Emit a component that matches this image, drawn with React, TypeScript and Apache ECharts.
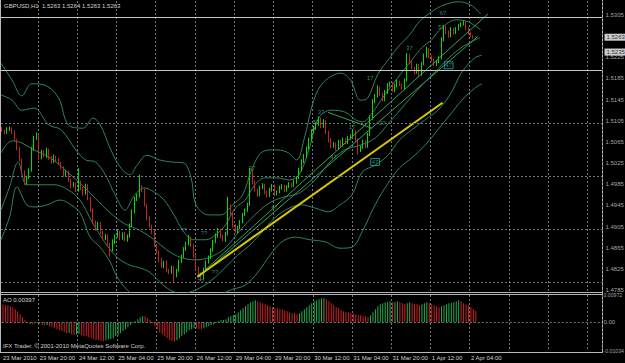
import React, { useEffect, useRef } from "react";
import * as echarts from "echarts";

const BAR_COUNT = 245;
const dateLabels = ["23 Mar 2010", "23 Mar 20:00", "24 Mar 12:00", "25 Mar 04:00", "25 Mar 20:00", "26 Mar 12:00", "29 Mar 04:00", "29 Mar 20:00", "30 Mar 12:00", "31 Mar 04:00", "31 Mar 20:00", "1 Apr 12:00", "2 Apr 04:00"];

const firstOpen = 1.509;
const closes = [
  1.5086, 1.5082, 1.5089, 1.5091, 1.5084, 1.5069, 1.5053, 1.5031, 1.5008, 1.4987,
  1.4997, 1.5012, 1.505, 1.5072, 1.5078, 1.5035, 1.5046, 1.5038, 1.505, 1.5035,
  1.5027, 1.5037, 1.5031, 1.5025, 1.5016, 1.5003, 1.5008, 1.4993, 1.4982, 1.4985,
  1.4974, 1.4989, 1.4978, 1.4968, 1.4982, 1.4959, 1.4936, 1.4914, 1.4902, 1.491,
  1.4895, 1.4883, 1.4887, 1.4872, 1.4861, 1.4876, 1.4887, 1.4895, 1.4883, 1.4891,
  1.488, 1.4887, 1.4906, 1.4933, 1.4955, 1.4963, 1.4978, 1.4974, 1.4946, 1.4921,
  1.4906, 1.4895, 1.487, 1.4857, 1.4842, 1.483, 1.4838, 1.4823, 1.4819, 1.4827,
  1.4813, 1.4823, 1.4838, 1.4849, 1.4861, 1.4872, 1.4883, 1.487, 1.4849, 1.4827,
  1.4815, 1.4808, 1.4823, 1.4838, 1.4846, 1.4861, 1.4876, 1.4887, 1.4898, 1.4887,
  1.488, 1.4891, 1.4944, 1.4929, 1.4906, 1.4895, 1.4902, 1.4914, 1.4927, 1.4936,
  1.4946, 1.5008, 1.4989, 1.4974, 1.4965, 1.4978, 1.4984, 1.497, 1.4963, 1.4974,
  1.4982, 1.4967, 1.497, 1.4978, 1.4982, 1.4974, 1.498, 1.4985, 1.4982, 1.4989,
  1.4997, 1.5012, 1.5027, 1.5038, 1.5053, 1.5069, 1.5084, 1.5091, 1.5099, 1.5107,
  1.5095, 1.5103, 1.5084, 1.5069, 1.5057, 1.5061, 1.5053, 1.5065, 1.5059, 1.5069,
  1.5063, 1.5072, 1.5076, 1.5084, 1.5069, 1.505, 1.5055, 1.5065, 1.5057, 1.5078,
  1.511, 1.514, 1.5152, 1.5167, 1.5156, 1.5144, 1.5159, 1.5171, 1.5175, 1.5163,
  1.5171, 1.5178, 1.5173, 1.5167, 1.5182, 1.5227, 1.5216, 1.5205, 1.5197, 1.5209,
  1.5193, 1.5212, 1.5227, 1.5239, 1.5227, 1.522, 1.5212, 1.5216, 1.5224, 1.5258,
  1.528, 1.5273, 1.5265, 1.5277, 1.5271, 1.5279, 1.5284, 1.5288, 1.529, 1.528,
  1.5271, 1.5265, 1.5263, 1.5263,
];
const upWick = [
  3, 2, 4, 3, 2, 3, 2, 3, 2, 3, 4, 3, 5, 4, 5, 3, 4, 3, 4, 2,
  3, 4, 2, 3, 2, 3, 4, 2, 3, 4, 3, 26, 3, 2, 4, 3, 2, 3, 2, 4,
  3, 2, 4, 3, 2, 5, 3, 4, 2, 3, 4, 3, 5, 4, 6, 4, 25, 5, 3, 2,
  3, 2, 3, 2, 3, 4, 2, 3, 2, 4, 3, 2, 4, 3, 5, 4, 6, 3, 2, 3,
  2, 3, 4, 3, 4, 3, 4, 5, 4, 3, 2, 4, 17, 3, 2, 3, 4, 3, 4, 3,
  4, 8, 5, 3, 2, 4, 3, 2, 3, 4, 3, 2, 3, 4, 3, 2, 3, 4, 3, 4,
  3, 4, 5, 4, 3, 4, 5, 4, 3, 6, 4, 5, 3, 2, 3, 4, 3, 4, 3, 4,
  3, 4, 3, 5, 3, 2, 3, 4, 3, 4, 5, 6, 4, 5, 3, 2, 4, 5, 4, 3,
  4, 5, 3, 2, 3, 6, 4, 3, 2, 4, 3, 4, 5, 6, 3, 2, 3, 4, 3, 5,
  6, 4, 3, 5, 4, 3, 4, 3, 4, 3, 2, 3, 2, 1,
];
const downWick = [
  2, 3, 2, 3, 4, 3, 4, 3, 4, 4, 3, 2, 3, 2, 3, 4, 3, 2, 3, 4,
  3, 2, 3, 4, 3, 4, 3, 4, 5, 3, 4, 3, 4, 5, 3, 4, 3, 4, 5, 3,
  4, 3, 4, 3, 13, 3, 4, 3, 4, 3, 3, 4, 3, 2, 3, 2, 3, 4, 3, 4,
  3, 4, 3, 4, 5, 3, 4, 5, 4, 3, 15, 4, 3, 2, 3, 2, 3, 4, 3, 4,
  4, 6, 3, 2, 3, 2, 3, 2, 3, 4, 3, 4, 3, 4, 3, 2, 3, 2, 3, 2,
  3, 2, 4, 3, 4, 3, 2, 4, 3, 2, 3, 4, 3, 2, 3, 4, 3, 2, 3, 2,
  3, 2, 3, 2, 3, 2, 3, 2, 3, 3, 4, 3, 4, 5, 4, 3, 4, 3, 4, 3,
  3, 2, 3, 2, 4, 9, 4, 3, 4, 3, 2, 3, 2, 3, 4, 3, 2, 3, 2, 3,
  4, 3, 2, 3, 4, 3, 4, 3, 4, 3, 4, 3, 2, 3, 4, 3, 4, 3, 2, 3,
  3, 4, 3, 2, 3, 2, 3, 2, 3, 4, 3, 2, 3, 0,
];

const aoValues = [
  0.00644, 0.00609, 0.00609, 0.00573, 0.00537, 0.00465, 0.00394, 0.00286, 0.00179, 0.00072,
  -0.00036, -0.00072, -0.00075, -0.0004, -0.0003, -0.00068, -0.00105, -0.0011, -0.00102, -0.00143,
  -0.00179, -0.00215, -0.00251, -0.00286, -0.00322, -0.00358, -0.00394, -0.0039, -0.0043, -0.00465,
  -0.0044, -0.00425, -0.00465, -0.00501, -0.00505, -0.00537, -0.00573, -0.00609, -0.00644, -0.0065,
  -0.0068, -0.00685, -0.0065, -0.00615, -0.00605, -0.00573, -0.00501, -0.00465, -0.00394, -0.00322,
  -0.00251, -0.00179, -0.00107, -0.00036, 0.00036, 0.00107, 0.00179, 0.00215, 0.0021, 0.00143,
  0.00072, -0.00036, -0.00143, -0.00251, -0.00358, -0.0043, -0.00501, -0.00573, -0.00644, -0.0068,
  -0.0069, -0.0065, -0.00573, -0.00501, -0.0043, -0.00358, -0.00286, -0.00251, -0.00215, -0.00225,
  -0.00251, -0.00255, -0.00215, -0.00179, -0.00143, -0.00107, -0.00072, -0.00036, 0.00036, 0.00072,
  0.00075, 0.00107, 0.00179, 0.00215, 0.00251, 0.00286, 0.00358, 0.0043, 0.00501, 0.00573,
  0.00644, 0.00716, 0.00752, 0.00788, 0.00752, 0.00716, 0.0068, 0.00644, 0.00609, 0.00573,
  0.00537, 0.00501, 0.00495, 0.00465, 0.0046, 0.0043, 0.00394, 0.00358, 0.00322, 0.00318,
  0.00286, 0.00322, 0.00394, 0.00465, 0.00537, 0.00609, 0.0068, 0.00752, 0.00788, 0.00823,
  0.00859, 0.00865, 0.00823, 0.00752, 0.0068, 0.00609, 0.00537, 0.00501, 0.0043, 0.00394,
  0.00358, 0.00355, 0.00322, 0.00318, 0.00286, 0.00251, 0.00245, 0.00215, 0.0021, 0.00185,
  0.00251, 0.00358, 0.00465, 0.00573, 0.00644, 0.0068, 0.00716, 0.0072, 0.00752, 0.00716,
  0.00722, 0.00752, 0.00716, 0.0068, 0.00644, 0.0068, 0.00716, 0.0068, 0.00644, 0.0064,
  0.00609, 0.00644, 0.0068, 0.00716, 0.0068, 0.00644, 0.00609, 0.00573, 0.00537, 0.00573,
  0.00609, 0.00644, 0.0068, 0.0069, 0.00716, 0.00752, 0.00788, 0.00752, 0.0068, 0.00644,
  0.00609, 0.00537, 0.00465, 0.00397,
];

const priceTicks = [1.4785, 1.4825, 1.4865, 1.4905, 1.4945, 1.4985, 1.5025, 1.5065, 1.5105, 1.5145, 1.5185, 1.5225, 1.5265, 1.5305];
const priceTickLabels = ["1.4785", "1.4825", "1.4865", "1.4905", "1.4945", "1.4985", "1.5025", "1.5065", "1.5105", "1.5145", "1.5185", "1.5225", "", "1.5305"];
const levelLines = [1.5263, 1.5235];
const levelLabels = ["1.5263", "1.5235"];
const aoTicks = [0.00972, 0, -0.01034];
const aoTickLabels = ["0.00972", "0.00", "-0.01034"];

const bandOuterUpper = [[-0.5, 1.5214], [4, 1.5182], [8, 1.5152], [12, 1.5175], [18, 1.5171], [23, 1.5148], [27, 1.5097], [33, 1.5091], [37, 1.511], [40, 1.5097], [44, 1.5053], [48, 1.5018], [52, 1.5003], [55, 1.5021], [59, 1.504], [64, 1.5031], [69, 1.5027], [74, 1.5025], [77, 1.4997], [79, 1.4946], [84, 1.4927], [89, 1.4927], [94, 1.4946], [98, 1.4965], [102, 1.5016], [106, 1.5046], [111, 1.505], [116, 1.5046], [120, 1.5031], [123, 1.5069], [127, 1.5144], [131, 1.5178], [138, 1.5195], [142, 1.5182], [146, 1.5144], [149, 1.5148], [153, 1.5192], [158, 1.5224], [162, 1.5248], [166, 1.5267], [170, 1.5292], [175, 1.5311], [180, 1.5324], [186, 1.533], [191, 1.5324], [195, 1.5307]];
const bandInnerUpper = [[-0.5, 1.5154], [4, 1.5144], [8, 1.5125], [13, 1.5129], [19, 1.5097], [24, 1.5088], [30, 1.505], [34, 1.5031], [38, 1.5027], [42, 1.5003], [46, 1.4965], [50, 1.4936], [54, 1.4965], [58, 1.4978], [62, 1.497], [66, 1.4955], [70, 1.4927], [74, 1.4895], [78, 1.488], [83, 1.488], [87, 1.4889], [91, 1.4908], [95, 1.494], [99, 1.4955], [103, 1.4984], [107, 1.4997], [112, 1.4997], [117, 1.4993], [121, 1.5003], [125, 1.505], [129, 1.511], [134, 1.5125], [140, 1.5121], [144, 1.5107], [147, 1.5103], [151, 1.5121], [155, 1.5148], [159, 1.5173], [163, 1.5197], [167, 1.522], [171, 1.5243], [175, 1.5258], [179, 1.528], [185, 1.5296], [190, 1.5292], [195, 1.5277]];
const bandMiddle = [[-0.5, 1.5044], [4, 1.5067], [8, 1.5063], [13, 1.505], [19.5, 1.5035], [25.6, 1.5012], [31.7, 1.4987], [37.8, 1.4959], [44, 1.4931], [50, 1.491], [56, 1.4898], [62, 1.488], [67, 1.4861], [72.5, 1.4847], [78.6, 1.4842], [84.7, 1.4847], [90.8, 1.4864], [97, 1.4898], [103, 1.4927], [109, 1.495], [115, 1.4961], [121, 1.4968], [127.5, 1.4993], [133.6, 1.5027], [139.7, 1.505], [146, 1.5059], [152, 1.5072], [158, 1.5103], [164, 1.5135], [170, 1.5167], [176.4, 1.5197], [182.5, 1.5226], [188.7, 1.5248], [194.8, 1.5262]];
const bandInnerLower = [[-0.5, 1.4936], [3, 1.498], [6.5, 1.5027], [10, 1.4984], [15.4, 1.4984], [21.5, 1.4984], [27, 1.4974], [31.7, 1.4955], [36.6, 1.4914], [42, 1.4874], [47, 1.4846], [52, 1.4832], [56, 1.4827], [60, 1.4819], [64.3, 1.48], [68.4, 1.4785], [72.5, 1.4779], [76.5, 1.4781], [80.6, 1.4789], [85.5, 1.4804], [90.8, 1.4827], [96, 1.4851], [101, 1.487], [106, 1.4895], [111, 1.4921], [117, 1.494], [122, 1.4946], [127.5, 1.494], [133, 1.4933], [137.7, 1.4946], [142.6, 1.4965], [146.7, 1.5008], [152, 1.5021], [157.3, 1.504], [162, 1.5069], [167, 1.5088], [172.4, 1.5107], [177.6, 1.5125], [182.5, 1.5154], [187.4, 1.5197], [192.7, 1.5224], [195.6, 1.5229]];
const bandOuterLower = [[-0.5, 1.488], [3, 1.4923], [6, 1.498], [10, 1.4946], [13.4, 1.4942], [18.3, 1.4946], [23.5, 1.4955], [26.4, 1.4951], [31.7, 1.4931], [35.8, 1.4885], [39.9, 1.4866], [44, 1.4838], [46.8, 1.481], [51, 1.4785], [56, 1.4766], [64, 1.4747], [72.5, 1.4743], [80.6, 1.4757], [86.7, 1.477], [93, 1.4785], [99, 1.4794], [104.3, 1.4819], [109.2, 1.4851], [114, 1.4876], [119.3, 1.4885], [125.5, 1.488], [131.6, 1.4876], [137.7, 1.4864], [142.6, 1.4866], [146.7, 1.4895], [152, 1.4946], [157.3, 1.4987], [162, 1.5016], [167, 1.5035], [172.4, 1.5059], [177.6, 1.5088], [182.5, 1.5116], [187.4, 1.5144], [192.7, 1.5167], [195.6, 1.5175]];

const yellowTrend = [[79.5, 1.481], [179.5, 1.5139]];
const fanLineA = [[79.8, 1.4808], [194, 1.5265]];
const fanLineB = [[82.7, 1.4823], [198, 1.5307]];
const peakLine = [[132.8, 1.5121], [150.7, 1.5091]];

// [bar, price, text, kind]  kind: g = green, c = cyan, b = boxed cyan
const waveLabels: [number, number, string, string][] = [
  [74, 1.4898, "??", "c"], [82.3, 1.4893, "??", "c"], [81, 1.4802, "??", "c"], [86.7, 1.4819, "??", "g"],
  [101.8, 1.5016, "37", "g"], [111, 1.4942, "47", "g"], [127.9, 1.5103, "57", "g"], [130, 1.5121, "37", "c"],
  [135, 1.5036, "47", "g"], [142.6, 1.5093, "17", "g"], [152, 1.5027, "47", "b"], [155, 1.5101, "27", "g"],
  [150, 1.5186, "17", "g"], [166, 1.5243, "37", "g"], [179, 1.5282, "57", "g"], [179.7, 1.5309, "67", "c"],
  [182, 1.521, "47", "b"],
];

const FONT = "'Liberation Sans', Arial, sans-serif";
const TXT = "#d0d0d0";
const GRIDC = "#6f7782";
const BULL = "#00e000";
const BEAR = "#c02818";
const BAND = "#2f8457";
const RIGHT_EDGE = BAR_COUNT - 0.5;

export default function App() {
  const ref = useRef<HTMLDivElement>(null);
  useEffect(() => {
    const chart = echarts.init(ref.current!, null, { renderer: "svg" });
    const categories = Array.from({ length: BAR_COUNT }, (_, i) => "b" + i);
    const labelAt = new Map<number, string>();
    dateLabels.forEach((t, k) => labelAt.set(k === 0 ? 0 : 15 + 16 * (k - 1), t));
    const vGrid = (i: number) => i >= 15 && (i - 15) % 16 === 0;

    const candles = closes.map((c, i) => {
      const o = i === 0 ? firstOpen : closes[i - 1];
      const hi = Math.max(o, c) + upWick[i] / 10000;
      const lo = Math.min(o, c) - downWick[i] / 10000;
      return [o, c, lo, hi];
    });

    const bandSeries = [bandOuterUpper, bandInnerUpper, bandMiddle, bandInnerLower, bandOuterLower].map((d) => ({
      type: "line", xAxisIndex: 1, yAxisIndex: 0, data: d, smooth: 0.35, symbol: "none", silent: true,
      lineStyle: { color: BAND, width: 1 }, z: 2,
    }));
    const straight = (d: number[][], color: string, width: number) => ({
      type: "line", xAxisIndex: 1, yAxisIndex: 0, data: d, symbol: "none", silent: true,
      lineStyle: { color, width }, z: 4,
    });
    const axisText = (xi: number, yi: number, items: any[]) => ({
      type: "scatter", xAxisIndex: xi, yAxisIndex: yi, symbolSize: 1, silent: true, clip: false, z: 8,
      itemStyle: { color: "rgba(0,0,0,0)" },
      labelLayout: { hideOverlap: false },
      data: items,
    });

    const kindColor: Record<string, string> = { g: "#3cb865", c: "#2aa6b0", b: "#2aa6b0" };
    const baseLabel = { show: true, position: "right", distance: 3, color: TXT, fontSize: 6, fontFamily: FONT };

    const option: any = {
      animation: false,
      backgroundColor: "#000000",
      textStyle: { fontFamily: FONT },
      grid: [
        { left: 1, top: 1, width: 601, height: 291 },
        { left: 1, top: 295, width: 601, height: 56 },
      ],
      xAxis: [
        { type: "category", gridIndex: 0, data: categories, boundaryGap: true,
          axisLine: { show: false }, axisTick: { show: false }, axisLabel: { show: false },
          splitLine: { show: true, interval: (i: number) => vGrid(i), lineStyle: { color: GRIDC, type: [2, 2], width: 1 } } },
        { type: "value", gridIndex: 0, min: -0.5, max: RIGHT_EDGE, show: false },
        { type: "category", gridIndex: 1, data: categories, boundaryGap: true,
          axisLine: { show: false }, axisTick: { show: false },
          axisLabel: { show: true, interval: (i: number) => labelAt.has(i), formatter: (_v: string, i: number) => labelAt.get(i) || "",
            align: "left", color: TXT, fontSize: 6, fontFamily: FONT, margin: 4 },
          splitLine: { show: true, interval: (i: number) => vGrid(i), lineStyle: { color: GRIDC, type: [2, 2], width: 1 } } },
        { type: "value", gridIndex: 1, min: -0.5, max: RIGHT_EDGE, show: false },
      ],
      yAxis: [
        { type: "value", gridIndex: 0, min: 1.47812, max: 1.53315, show: false },
        { type: "value", gridIndex: 1, min: -0.01034, max: 0.00972, show: false },
      ],
      series: [
        ...bandSeries,
        straight(fanLineA, "#33a35f", 1),
        straight(fanLineB, "#33a35f", 1),
        straight(peakLine, "#33a35f", 1),
        straight(yellowTrend, "#d8c800", 2),
        {
          type: "candlestick", xAxisIndex: 0, yAxisIndex: 0, data: candles, barWidth: 1, z: 3,
          itemStyle: { color: BULL, color0: BEAR, borderColor: BULL, borderColor0: BEAR, borderWidth: 1 },
          markLine: {
            silent: true, symbol: ["none", "none"], animation: false, label: { show: false },
            data: [
              ...priceTicks.map((v) => ({ yAxis: v, lineStyle: { color: GRIDC, type: [2, 2], width: 1 } })),
              ...levelLines.map((v) => ({ yAxis: v, lineStyle: { color: "#c8c8c8", type: "solid", width: 1 } })),
            ],
          },
        },
        axisText(1, 0, [
          ...priceTicks.map((v, k) => ({ value: [RIGHT_EDGE, v], label: { ...baseLabel, formatter: priceTickLabels[k] } })),
          ...levelLines.map((v, k) => ({
            value: [RIGHT_EDGE, v],
            label: { ...baseLabel, distance: 2, formatter: levelLabels[k], color: "#000", backgroundColor: "#ffffff", padding: [1, 2, 0, 2] },
          })),
        ]),
        {
          type: "scatter", xAxisIndex: 1, yAxisIndex: 0, symbolSize: 1, silent: true, z: 6,
          itemStyle: { color: "rgba(0,0,0,0)" },
          data: waveLabels.map(([b, p, t, k]) => ({
            value: [b, p],
            label: {
              show: true, position: "inside", formatter: t, color: kindColor[k], fontSize: 6, fontFamily: FONT,
              ...(k === "b" ? { borderColor: "#2aa6b0", borderWidth: 1, padding: [1, 1, 0, 1] } : {}),
            },
          })),
        },
        {
          type: "bar", xAxisIndex: 2, yAxisIndex: 1, data: aoValues, barWidth: 1, z: 3,
          itemStyle: {
            color: (p: any) => (p.dataIndex > 0 && aoValues[p.dataIndex] > aoValues[p.dataIndex - 1] ? "#22b050" : "#d02020"),
          },
          markLine: {
            silent: true, symbol: ["none", "none"], animation: false, label: { show: false },
            data: [{ yAxis: 0, lineStyle: { color: GRIDC, type: [2, 2], width: 1 } }],
          },
        },
        axisText(3, 1, aoTicks.map((v, k) => ({
          value: [RIGHT_EDGE, v],
          label: { ...baseLabel, fontSize: k === 1 ? 6 : 5.2, distance: 1, formatter: aoTickLabels[k],
            offset: k === 0 ? [0, 4] : k === 2 ? [0, -2] : [2, 0] },
        }))),
      ],
      graphic: [
        { type: "line", shape: { x1: 0.5, y1: 0, x2: 0.5, y2: 353 }, style: { stroke: "#b8b8b8", lineWidth: 1 }, silent: true },
        { type: "line", shape: { x1: 602.5, y1: 0, x2: 602.5, y2: 353 }, style: { stroke: "#b8b8b8", lineWidth: 1 }, silent: true },
        { type: "line", shape: { x1: 0, y1: 292.5, x2: 603, y2: 292.5 }, style: { stroke: "#b8b8b8", lineWidth: 1 }, silent: true },
        { type: "line", shape: { x1: 0, y1: 294.5, x2: 603, y2: 294.5 }, style: { stroke: "#b8b8b8", lineWidth: 1 }, silent: true },
        { type: "line", shape: { x1: 0, y1: 352.5, x2: 603, y2: 352.5 }, style: { stroke: "#b8b8b8", lineWidth: 1 }, silent: true },
        { type: "text", left: 4, top: 3, silent: true, style: { text: "GBPUSD,H1  1.5263 1.5264 1.5263 1.5263", fill: TXT, fontSize: 6, fontFamily: FONT } },
        { type: "text", left: 3, top: 297, silent: true, style: { text: "AO 0.00397", fill: TXT, fontSize: 6, fontFamily: FONT } },
        { type: "text", left: 3, top: 343, silent: true, style: { text: "IFX Trader, © 2001-2010 MetaQuotes Software Corp.", fill: TXT, fontSize: 6, fontFamily: FONT } },
      ],
    };
    chart.setOption(option);
    return () => chart.dispose();
  }, []);
  return <div ref={ref} style={{ position: "fixed", left: 0, top: 0, width: 625, height: 363, background: "#000" }} />;
}
